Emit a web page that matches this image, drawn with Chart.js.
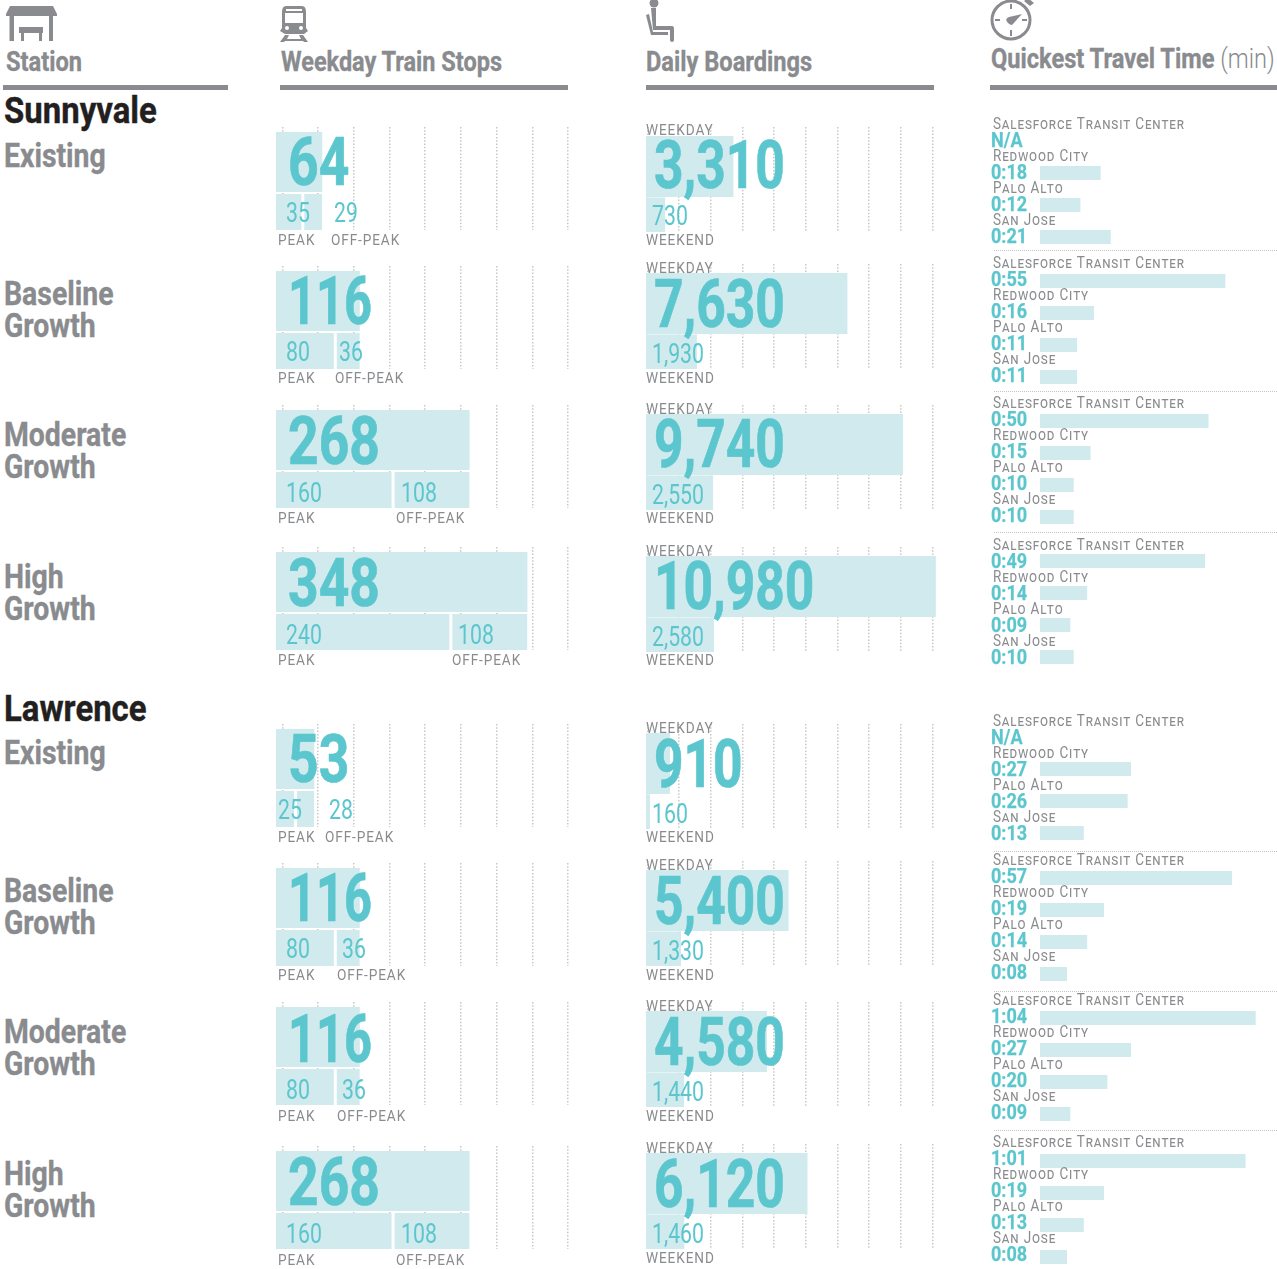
<!DOCTYPE html>
<html>
<head>
<meta charset="utf-8">
<title>Station comparison</title>
<script src="https://cdn.jsdelivr.net/npm/chart.js@4"></script>
<style>
  html, body { margin: 0; padding: 0; background: #fff; }
  #page { position: relative; width: 1277px; height: 1269px; overflow: hidden; font-family: Roboto, sans-serif; }
  canvas { position: absolute; }
  .t { position: absolute; height: 0; line-height: 0; white-space: nowrap; transform-origin: 0 0; z-index: 5; }
  .rule { position: absolute; top: 85px; height: 5px; background: #898b8e; }
  .sep { position: absolute; left: 994px; width: 283px; border-top: 1px dotted #c4c4c4; }
  svg { position: absolute; z-index: 5; }
</style>
</head>
<body>
<div id="page">
  <svg style="left:0;top:0" width="1277" height="50" fill="#898b8e">
    <path d="M10 6H53L57 14V16H6V14Z"/>
    <path d="M9.500 16H14V41H9.500ZM49 16H53V41H49ZM19 27H43V33H19ZM21 33H24V41H21ZM39 33H42V41H39Z"/>
    <path d="M286 6H302Q306 6 306 12V28L308 31L304 34H285L280 31L282 28V12Q282 6 286 6Z"/>
    <path d="M285 35H289L287 39H301L299 35H303L308 42H304L303 41H285L284 42H280Z"/>
    <rect x="286" y="9" width="16" height="2" fill="#fff"/>
    <rect x="285" y="13" width="18" height="10" fill="#fff"/>
    <circle cx="287" cy="28" r="2" fill="#fff"/><circle cx="301" cy="28" r="2" fill="#fff"/>
    <circle cx="654" cy="3" r="4.500"/>
    <path d="M651 8H656V26H672Q674 26 674 29V40Q674 42 672 42Q670 42 670 40V30H653Z"/>
    <path d="M646 15L649 14L653 32H668V35H651Z"/>
    <circle cx="1011" cy="20" r="19" fill="none" stroke="#898b8e" stroke-width="3"/>
    <path d="M1028 -2L1034 3L1030 6L1024 1Z"/>
    <path d="M1008 23Q1004 19 1009 17L1022 14L1012 25Q1010 25 1008 23Z"/>
    <path d="M1010 4H1012V9H1010ZM1010 30H1012V36H1010ZM995 19H1000V21H995ZM1022 19H1027V21H1022Z"/>
  </svg>
  <div class="rule" style="left:3px;width:225px"></div>
  <div class="rule" style="left:280px;width:288px"></div>
  <div class="rule" style="left:646px;width:288px"></div>
  <div class="rule" style="left:990px;width:287px"></div>
</div>
<script>
// values
const scenarios = ['Existing', 'Baseline|Growth', 'Moderate|Growth', 'High|Growth']
const stations = ['Salesforce Transit Center', 'Redwood City', 'Palo Alto', 'San Jose']

const sunnyvalePeak = [35, 80, 160, 240]
const sunnyvaleOffPeak = [29, 36, 108, 108]
const sunnyvaleWeekday = [3310, 7630, 9740, 10980]
const sunnyvaleWeekend = [730, 1930, 2550, 2580]
const sunnyvaleSalesforce = [null, 55, 50, 49]
const sunnyvaleRedwood = [18, 16, 15, 14]
const sunnyvalePaloAlto = [12, 11, 10, 9]
const sunnyvaleSanJose = [21, 11, 10, 10]

const lawrencePeak = [25, 80, 80, 160]
const lawrenceOffPeak = [28, 36, 36, 108]
const lawrenceWeekday = [910, 5400, 4580, 6120]
const lawrenceWeekend = [160, 1330, 1440, 1460]
const lawrenceSalesforce = [null, 57, 64, 61]
const lawrenceRedwood = [27, 19, 27, 19]
const lawrencePaloAlto = [26, 14, 20, 13]
const lawrenceSanJose = [13, 8, 9, 8]

const peak = sunnyvalePeak.concat(lawrencePeak)
const offPeak = sunnyvaleOffPeak.concat(lawrenceOffPeak)
const weekday = sunnyvaleWeekday.concat(lawrenceWeekday)
const weekend = sunnyvaleWeekend.concat(lawrenceWeekend)
const travel = [
  sunnyvaleSalesforce.concat(lawrenceSalesforce),
  sunnyvaleRedwood.concat(lawrenceRedwood),
  sunnyvalePaloAlto.concat(lawrencePaloAlto),
  sunnyvaleSanJose.concat(lawrenceSanJose)
]

const BAR = '#d0eaed'
const TEAL = '#5bc6cd'
const GREY = '#898b8e'
const GRID = '#c9c8c4'
const page = document.getElementById('page')

// row layout, one entry per scenario row
const gridTops = [127, 266, 405, 547, 724, 863, 1002, 1146]
const boardTops = [127, 264, 405, 547, 724, 861, 1002, 1144]
const stopText = {
  big: [163, 302, 442, 584, 760, 899, 1040, 1183],
  small: [213, 352, 493, 635, 810, 949, 1090, 1234],
  label: [240, 378, 518, 660, 837, 975, 1116, 1260],
  peakX: [286, 286, 286, 286, 278, 286, 286, 286],
  offX: [334, 339, 401, 458, 329, 342, 342, 401],
  offLabelX: [331, 335, 396, 452, 325, 337, 337, 396]
}
const boardText = {
  top: [130, 268, 409, 551, 728, 865, 1006, 1148],
  big: [166, 305, 445, 587, 765, 902, 1043, 1185],
  small: [216, 354, 495, 637, 814, 951, 1092, 1234],
  label: [240, 378, 518, 660, 837, 975, 1116, 1258]
}
const travelText = [140, 279, 419, 561, 737, 876, 1016, 1158]
const travelBars = [141, 281, 421, 561, 737, 878, 1018, 1161]
const separators = [250, 391, 532, 851, 991, 1130]

function addText(str, x, y, size, weight, color, squeeze, spacing, extra) {
  const el = document.createElement('div')
  el.className = 't'
  el.textContent = str
  el.style.cssText = `left:${x}px;top:${y}px;font-size:${size}px;font-weight:${weight};color:${color};` +
    `transform:scaleX(${squeeze});letter-spacing:${spacing || 0}px;${extra || ''}`
  page.appendChild(el)
  return el
}

function addCanvas(x, y, w, h) {
  const c = document.createElement('canvas')
  c.width = w
  c.height = h
  c.style.left = x + 'px'
  c.style.top = y + 'px'
  c.style.width = w + 'px'
  c.style.height = h + 'px'
  page.appendChild(c)
  return c.getContext('2d')
}

// two rows in one cell: the total on row 0, its split on row 1
function cellChart(x, y, w, h, maxValue, gridStart, gridStep, rowRange, datasets) {
  return new Chart(addCanvas(x, y, w, h), {
    type: 'bar',
    data: { datasets: datasets },
    options: {
      indexAxis: 'y',
      responsive: false,
      animation: false,
      devicePixelRatio: 1,
      layout: { padding: 0 },
      plugins: { legend: { display: false }, tooltip: { enabled: false } },
      scales: {
        x: {
          type: 'linear',
          stacked: true,
          min: 0,
          max: maxValue,
          afterBuildTicks: axis => {
            const ticks = []
            for (let v = gridStart; v <= maxValue; v += gridStep) ticks.push({ value: v })
            axis.ticks = ticks
          },
          ticks: { display: false },
          border: { display: false, dash: [1.5, 1.8] },
          grid: { color: GRID, lineWidth: 1.5, drawTicks: false }
        },
        y: {
          type: 'linear',
          stacked: true,
          display: false,
          offset: false,
          reverse: true,
          min: rowRange[0],
          max: rowRange[1]
        }
      }
    }
  })
}

function barStyle(thickness, border) {
  return {
    backgroundColor: BAR,
    barThickness: thickness,
    inflateAmount: 0,
    borderSkipped: false,
    borderColor: '#fff',
    borderWidth: border || 0
  }
}

const STOPS_MAX = 407
const BOARD_MAX = 11100
const BIG_STROKE = '-webkit-text-stroke:0.7px ' + TEAL + ';'
const HEAD_STROKE = '-webkit-text-stroke:0.35px ' + GREY + ';'

peak.forEach((p, i) => {
  const total = p + offPeak[i]
  cellChart(276, gridTops[i], 294, 103, STOPS_MAX, 9, 49.4, [-0.7, 1.36], [
    Object.assign({ label: 'Total', data: [{ x: total, y: 0 }] }, barStyle(60)),
    Object.assign({ label: 'Peak', data: [{ x: p, y: 1 }] }, barStyle(36)),
    Object.assign({ label: 'Off-peak', data: [{ x: offPeak[i], y: 1 }] }, barStyle(36, { left: 3 }))
  ])
  // the 1s in the original are narrower than Roboto's
  addText(String(total), 288, stopText.big[i], 66, 700, TEAL, total === 116 ? 0.74 : 0.81, 0, BIG_STROKE)
  addText(String(p), stopText.peakX[i], stopText.small[i], 28, 400, TEAL, 0.76)
  addText(String(offPeak[i]), stopText.offX[i], stopText.small[i], 28, 400, TEAL, 0.76)
  addText('PEAK', 278, stopText.label[i], 15.5, 400, GREY, 0.88, 1)
  addText('OFF-PEAK', stopText.offLabelX[i], stopText.label[i], 15.5, 400, GREY, 0.88, 1)

  cellChart(646, boardTops[i], 293, 105, BOARD_MAX, 50, 1200, [-0.83, 1.38], [
    Object.assign({ label: 'Weekday', data: [{ x: weekday[i], y: 0 }] }, barStyle(61)),
    Object.assign({ label: 'Weekend', data: [{ x: weekend[i], y: 1 }] }, barStyle(37, { top: 2 }))
  ])
  addText('WEEKDAY', 646, boardText.top[i], 15.5, 400, GREY, 0.88, 1)
  addText(weekday[i].toLocaleString('en-US'), 654, boardText.big[i], 66, 700, TEAL, 0.78, 0, BIG_STROKE)
  addText(weekend[i].toLocaleString('en-US'), 652, boardText.small[i], 28, 400, TEAL, 0.76)
  addText('WEEKEND', 646, boardText.label[i], 15.5, 400, GREY, 0.88, 1)

  new Chart(addCanvas(1040, travelBars[i] - 16, 237, 128), {
    type: 'bar',
    data: {
      labels: stations,
      datasets: [Object.assign({ data: travel.map(route => route[i]) }, barStyle(14))]
    },
    options: {
      indexAxis: 'y',
      responsive: false,
      animation: false,
      devicePixelRatio: 1,
      layout: { padding: 0 },
      plugins: { legend: { display: false }, tooltip: { enabled: false } },
      scales: {
        x: { display: false, min: 0, max: 237 / 3.37 },
        y: { display: false }
      }
    }
  })
  stations.forEach((name, s) => {
    const m = travel[s][i]
    const time = m === null ? 'N/A' : Math.floor(m / 60) + ':' + String(m % 60).padStart(2, '0')
    addText(name, 993, travelText[i] - 16 + s * 32, 16, 400, GREY, 0.845, 1, 'font-variant:small-caps;')
    addText(time, 991, travelText[i] + s * 32, 21, 700, TEAL, 0.86, 0, '-webkit-text-stroke:0.25px ' + TEAL + ';')
  })
})

separators.forEach(y => {
  const d = document.createElement('div')
  d.className = 'sep'
  d.style.top = y + 'px'
  page.appendChild(d)
})

// headers and row titles
addText('Station', 6, 62, 27, 700, GREY, 0.875, 0, HEAD_STROKE)
addText('Weekday Train Stops', 281, 62, 27, 700, GREY, 0.87, 0, HEAD_STROKE)
addText('Daily Boardings', 646, 62, 27, 700, GREY, 0.875, 0, HEAD_STROKE)
const head = addText('Quickest Travel Time ', 991, 59, 27, 700, GREY, 0.875, 0, 'white-space:pre;' + HEAD_STROKE)
const unit = document.createElement('span')
unit.textContent = '(min)'
unit.style.fontWeight = 300
unit.style.webkitTextStrokeWidth = '0'
head.appendChild(unit)

addText('Sunnyvale', 4, 111, 37, 700, '#231f20', 0.89, 0, '-webkit-text-stroke:0.4px #231f20;')
addText('Lawrence', 4, 709, 37, 700, '#231f20', 0.89, 0, '-webkit-text-stroke:0.4px #231f20;')
const titleLines = [[156], [294, 326], [435, 467], [577, 609], [753], [891, 923], [1032, 1064], [1174, 1206]]
titleLines.forEach((lines, i) => {
  const parts = scenarios[i % 4].split('|')
  parts.forEach((part, k) => addText(part, 4, lines[k], 33, 700, GREY, 0.86, 0, HEAD_STROKE))
})
</script>
</body>
</html>
